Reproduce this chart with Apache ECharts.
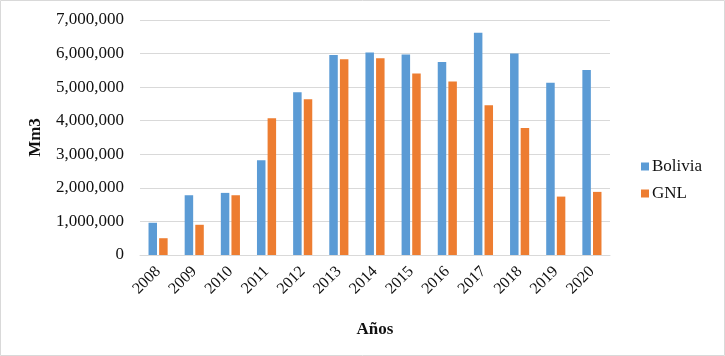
<!DOCTYPE html>
<html>
<head>
<meta charset="utf-8">
<script src="https://cdn.jsdelivr.net/npm/echarts@6/dist/echarts.min.js"></script>
<style>
  html, body { margin: 0; padding: 0; background: #fff; }
  #chart { width: 725px; height: 356px; }
</style>
</head>
<body>
<div id="chart"></div>
<script>
// data
var years = ['2008', '2009', '2010', '2011', '2012', '2013', '2014', '2015', '2016', '2017', '2018', '2019', '2020']
var bolivia = [960000, 1780000, 1850000, 2820000, 4850000, 5960000, 6030000, 5970000, 5750000, 6620000, 6000000, 5130000, 5510000]
var gnl = [500000, 900000, 1780000, 4070000, 4640000, 5830000, 5860000, 5410000, 5170000, 4460000, 3780000, 1740000, 1880000]

var font = "'Liberation Serif', 'Times New Roman', serif"
var chart = echarts.init(document.getElementById('chart'))

chart.setOption({
  animation: false,
  textStyle: { fontFamily: font },
  graphic: [{
    type: 'rect',
    shape: { x: 0.5, y: 0.5, width: 724, height: 355 },
    style: { fill: 'none', stroke: '#d9d9d9', lineWidth: 1 }
  }],
  grid: { left: 140, right: 115, top: 20, bottom: 101 },
  legend: {
    orient: 'vertical',
    left: 636,
    top: 153,
    itemWidth: 8,
    itemHeight: 8,
    itemGap: 10,
    icon: 'rect',
    textStyle: { fontFamily: font, fontSize: 17, color: '#111', padding: [0, 0, 0, -2] },
    data: ['Bolivia', 'GNL']
  },
  xAxis: {
    type: 'category',
    data: years,
    name: 'Años',
    nameLocation: 'middle',
    nameGap: 66,
    nameTextStyle: { fontFamily: font, fontSize: 17, fontWeight: 'bold', color: '#111' },
    axisLine: { lineStyle: { color: '#d9d9d9' } },
    axisTick: { show: false },
    axisLabel: { rotate: 45, fontSize: 16, color: '#111', margin: 14, fontFamily: font }
  },
  yAxis: {
    type: 'value',
    min: 0,
    max: 7000000,
    interval: 1000000,
    name: 'Mm3',
    nameLocation: 'middle',
    nameGap: 96,
    nameTextStyle: { fontFamily: font, fontSize: 17, fontWeight: 'bold', color: '#111' },
    axisLine: { show: false },
    axisTick: { show: false },
    splitLine: { lineStyle: { color: '#d9d9d9' } },
    axisLabel: {
      fontSize: 17,
      color: '#111',
      margin: 16,
      fontFamily: font,
      formatter: function(v) {
        return v.toLocaleString('en-US')
      }
    }
  },
  series: [{
    name: 'Bolivia',
    type: 'bar',
    data: bolivia,
    barWidth: 8.5,
    barGap: '25%',
    itemStyle: { color: '#5B9BD5' }
  }, {
    name: 'GNL',
    type: 'bar',
    data: gnl,
    barWidth: 8.5,
    barGap: '25%',
    itemStyle: { color: '#ED7D31' }
  }]
})
</script>
</body>
</html>
